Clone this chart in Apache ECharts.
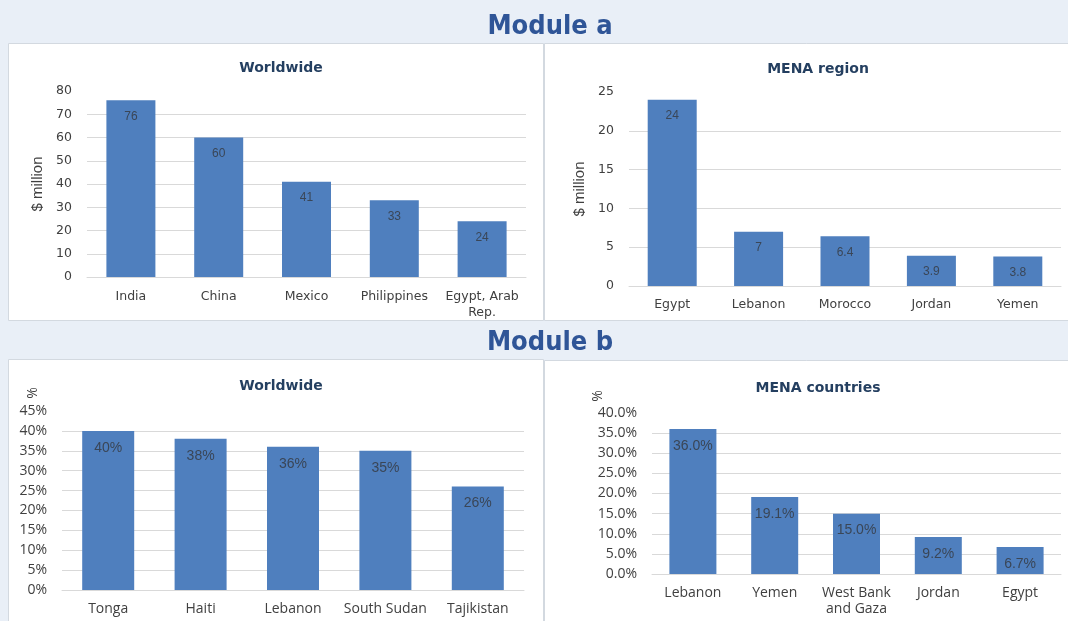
<!DOCTYPE html>
<html>
<head>
<meta charset="utf-8">
<script src="https://cdn.jsdelivr.net/npm/echarts@6/dist/echarts.min.js"></script>
<style>
  html, body { margin: 0; padding: 0; background: #e9eff7; }
  #chart { width: 1068px; height: 621px; }
</style>
</head>
<body>
<div id="chart"></div>
<script>
// module a: remittances in $ million
const tlCats = ['India', 'China', 'Mexico', 'Philippines', 'Egypt, Arab\nRep.']
const tlVals = [76, 60, 41, 33, 24]
const trCats = ['Egypt', 'Lebanon', 'Morocco', 'Jordan', 'Yemen']
const trVals = [24, 7, 6.4, 3.9, 3.8]
// module b: percent
const blCats = ['Tonga', 'Haiti', 'Lebanon', 'South Sudan', 'Tajikistan']
const blVals = [40, 38, 36, 35, 26]
const brCats = ['Lebanon', 'Yemen', 'West Bank\nand Gaza', 'Jordan', 'Egypt']
const brVals = [36.0, 19.1, 15.0, 9.2, 6.7]

const BAR = '#4f7fbe'
const GRID = '#d9d9d9'
const TXT = '#404040'
const TOPFONT = 'DejaVu Sans'
const BOTFONT = 'Open Sans'

const chart = echarts.init(document.getElementById('chart'))

const catAxis = (idx, data, font, size, margin) => ({
  type: 'category',
  gridIndex: idx,
  data: data,
  axisTick: { show: false },
  axisLine: { lineStyle: { color: GRID } },
  axisLabel: { interval: 0, color: TXT, fontFamily: font, fontSize: size, margin: margin, lineHeight: 16 }
})

const valAxis = (idx, max, step, font, size, fmt, name) => ({
  type: 'value',
  gridIndex: idx,
  min: 0,
  max: max,
  interval: step,
  name: name || '',
  nameLocation: 'middle',
  nameGap: 42,
  nameTextStyle: { color: TXT, fontFamily: 'Liberation Sans', fontSize: 15 },
  axisLine: { show: false },
  axisTick: { show: false },
  axisLabel: { color: TXT, fontFamily: font, fontSize: size, margin: 15, formatter: fmt },
  splitLine: { show: true, showMaxLine: false, lineStyle: { color: GRID } }
})

const barSeries = (idx, data, width, fmt, size) => ({
  type: 'bar',
  xAxisIndex: idx,
  yAxisIndex: idx,
  data: data,
  barWidth: width,
  itemStyle: { color: BAR },
  label: {
    show: true,
    position: 'insideTop',
    distance: 10,
    color: '#3a4657',
    fontFamily: 'Liberation Sans',
    fontSize: size,
    formatter: fmt
  }
})

const panel = (x, y, w, h) => ({
  type: 'rect',
  z: -1,
  shape: { x: x, y: y, width: w, height: h },
  style: { fill: '#fff', stroke: '#d3d9e0', lineWidth: 1 }
})

const chartTitle = (text, x, y) => ({
  text: text,
  left: x,
  top: y,
  textAlign: 'center',
  textStyle: { color: '#243f60', fontFamily: 'DejaVu Sans', fontWeight: 'bold', fontSize: 14 }
})

const moduleTitle = (text, y) => ({
  text: text,
  left: 545,
  top: y,
  textAlign: 'center',
  textStyle: { color: '#2f5597', fontFamily: 'Liberation Sans Narrow, DejaVu Sans Condensed, sans-serif', fontWeight: 'bold', fontSize: 27 }
})

chart.setOption({
  backgroundColor: '#e9eff7',
  animation: false,
  title: [
    moduleTitle('Module a', 8),
    moduleTitle('Module b', 324),
    chartTitle('Worldwide', 276, 56),
    chartTitle('MENA region', 813, 57),
    chartTitle('Worldwide', 276, 374),
    chartTitle('MENA countries', 813, 376)
  ],
  graphic: [
    panel(8.5, 43.5, 535, 277),
    panel(544.5, 43.5, 530, 277),
    panel(8.5, 359.5, 535, 270),
    panel(544.5, 360.5, 530, 270),
    {
      type: 'text', x: 33, y: 393, rotation: Math.PI / 2,
      style: { text: '%', fill: TXT, font: '14px "Open Sans"', align: 'center', verticalAlign: 'middle' }
    },
    {
      type: 'text', x: 598, y: 396, rotation: Math.PI / 2,
      style: { text: '%', fill: TXT, font: '14px "Open Sans"', align: 'center', verticalAlign: 'middle' }
    }
  ],
  grid: [
    { left: 87, right: 542, top: 91, bottom: 344 },
    { left: 629, right: 7, top: 92, bottom: 335 },
    { left: 62, right: 544, top: 411, bottom: 31 },
    { left: 652, right: 7, top: 413, bottom: 47 }
  ],
  xAxis: [
    catAxis(0, tlCats, TOPFONT, 12.5, 12),
    catAxis(1, trCats, TOPFONT, 12.5, 11),
    catAxis(2, blCats, BOTFONT, 14, 11),
    catAxis(3, brCats, BOTFONT, 14, 11)
  ],
  yAxis: [
    valAxis(0, 80, 10, TOPFONT, 12.5, '{value}', '$ million'),
    valAxis(1, 25, 5, TOPFONT, 12.5, '{value}', '$ million'),
    valAxis(2, 45, 5, BOTFONT, 14, '{value}%'),
    valAxis(3, 40, 5, BOTFONT, 14, v => v.toFixed(1) + '%')
  ],
  series: [
    barSeries(0, tlVals, 49, '{c}', 12),
    barSeries(1, trVals, 49, '{c}', 12),
    barSeries(2, blVals, 52, '{c}%', 14),
    barSeries(3, brVals, 47, p => p.value.toFixed(1) + '%', 14)
  ]
})
</script>
</body>
</html>
